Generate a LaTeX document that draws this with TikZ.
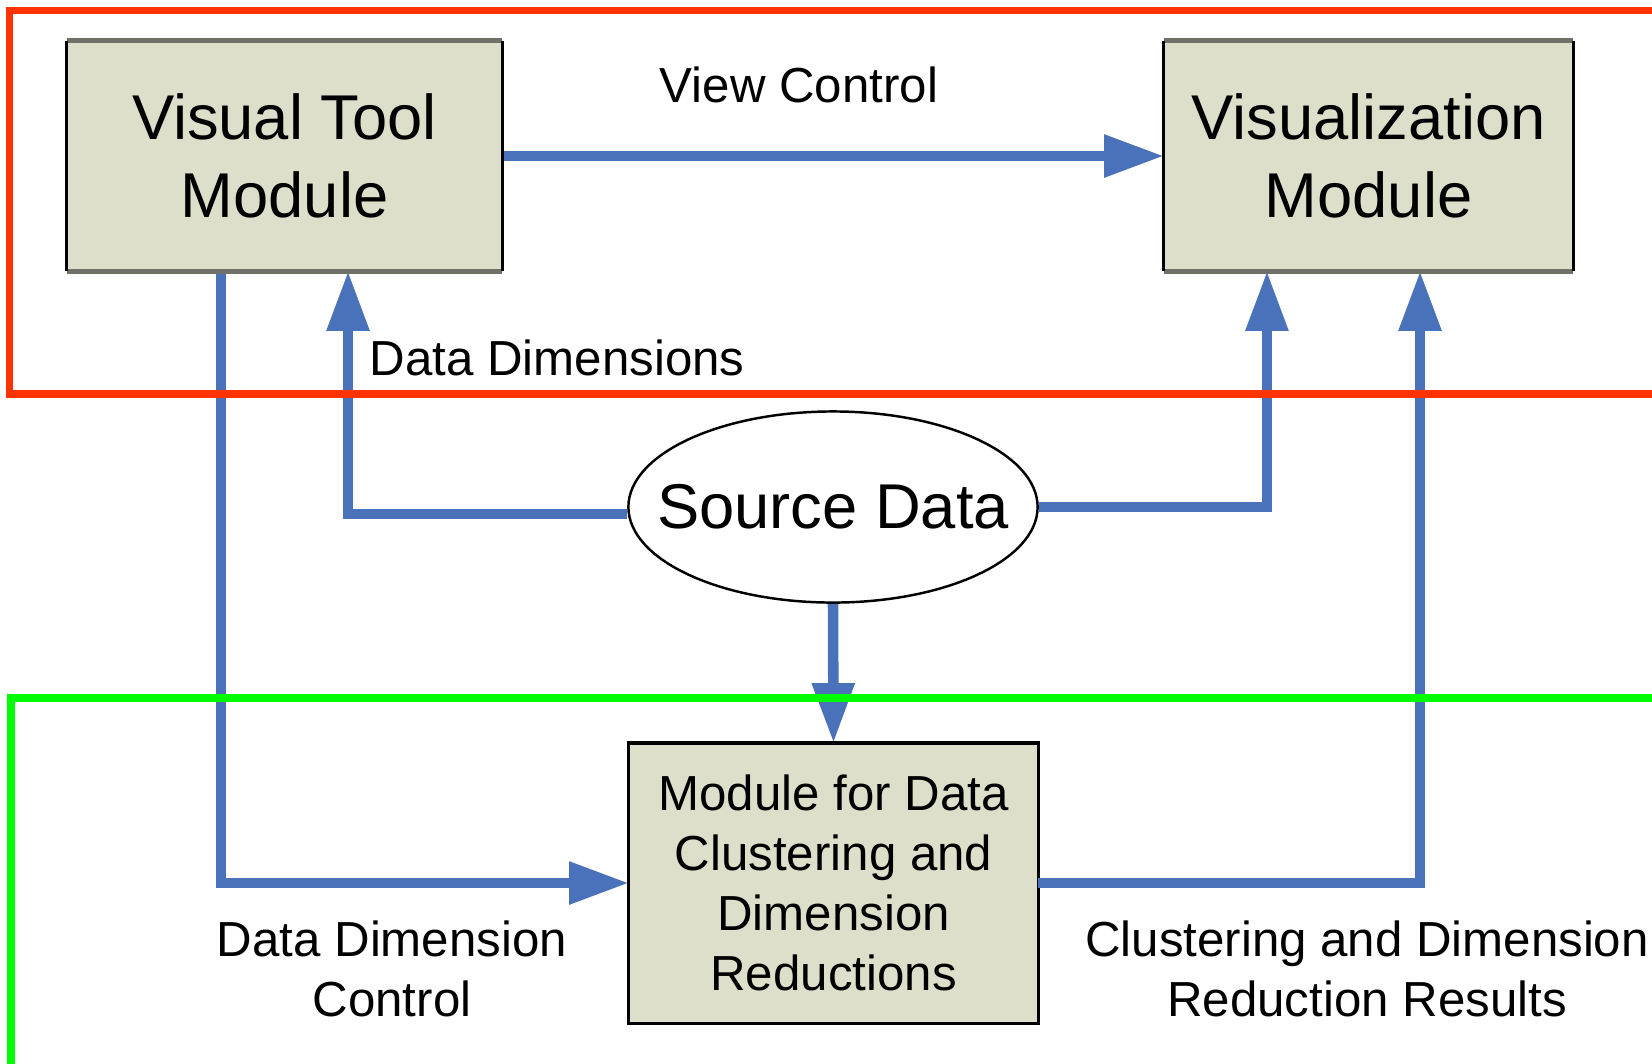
\documentclass[tikz,border=0pt]{standalone}
\usepackage{fontspec}
\setmainfont{Liberation Sans}
\usetikzlibrary{arrows.meta,shapes.geometric}
\definecolor{flowblue}{RGB}{74,114,186}
\definecolor{boxfill}{RGB}{221,223,203}
\definecolor{edgegray}{RGB}{112,112,104}
\definecolor{framered}{RGB}{255,51,0}
\definecolor{framegreen}{RGB}{0,255,0}

\begin{document}
\begin{tikzpicture}[x=0.01cm,y=-0.01cm,
  module/.style={rectangle, fill=boxfill, inner sep=0pt, outer sep=0pt,
    align=center, font=\fontsize{18}{22}\selectfont},
  flow/.style={draw=flowblue, line width=3pt, line join=miter,
    -{Triangle[length=17pt,width=11.5pt]}},
  lbl/.style={inner sep=0pt, align=center, font=\fontsize{14}{17}\selectfont},
  sideedge/.style={draw=black, line width=0.85pt},
  capedge/.style={draw=edgegray, line width=1.4pt},
]
% canvas
\fill[white] (0,0) rectangle (1652,1063);
\useasboundingbox (0,0) rectangle (1652,1063);

% modules
\node[module, minimum width=4.35cm, minimum height=2.30cm] (vt) at (284.5,156)
  {Visual Tool\\Module};
\node[module, minimum width=4.09cm, minimum height=2.30cm] (vis) at (1368.5,156)
  {Visualization\\Module};
% the text is wider than the ellipse's inscribed box, so the x padding is negative
\node[ellipse, draw=black, line width=0.7pt, fill=white,
  inner xsep=-0.32cm, inner ysep=0pt,
  minimum width=4.09cm, minimum height=1.91cm,
  font=\fontsize{18}{22}\selectfont] (src) at (833,507) {Source Data};
\node[module, draw=black, line width=0.9pt, minimum width=4.09cm,
  minimum height=2.80cm, font=\fontsize{14}{17}\selectfont] (mod) at (833.5,883)
  {Module for Data\\Clustering and\\Dimension\\Reductions};

% connector labels
\node[lbl, anchor=base] (vc) at (799,102) {View Control};
\node[lbl, anchor=base west] (dd) at (369,375) {Data Dimensions};
\node[lbl] (ddc) at (392,969) {Data Dimension\\Control};
\node[lbl] (cdr) at (1367,969) {Clustering and Dimension\\Reduction Results};

% connectors
\draw[flow] (vt.east) -- (vis.west);
\draw[flow] ([yshift=-0.07cm]src.west) -| ([xshift=0.635cm]vt.south);
\draw[flow] (src.east) -| ([xshift=-1.015cm]vis.south);
\draw[flow] (src.south) -- (mod.north);
\draw[flow] ([xshift=-0.635cm]vt.south) |- (mod.west);
\draw[flow] (mod.east) -| ([xshift=0.515cm]vis.south);

% module outlines: dark sides, grey top and bottom
\foreach \n in {vt,vis} {
  \draw[capedge] (\n.north west) -- (\n.north east)
                 (\n.south west) -- (\n.south east);
  \draw[sideedge] (\n.north west) -- (\n.south west)
                  (\n.north east) -- (\n.south east);
}

% group frames
\draw[framered, line width=2pt] (1670,10.5) -- (9.5,10.5) -- (9.5,394) -- (1670,394);
\draw[framegreen, line width=2.1pt] (1670,698) -- (11,698) -- (11,1080);
\end{tikzpicture}
\end{document}
